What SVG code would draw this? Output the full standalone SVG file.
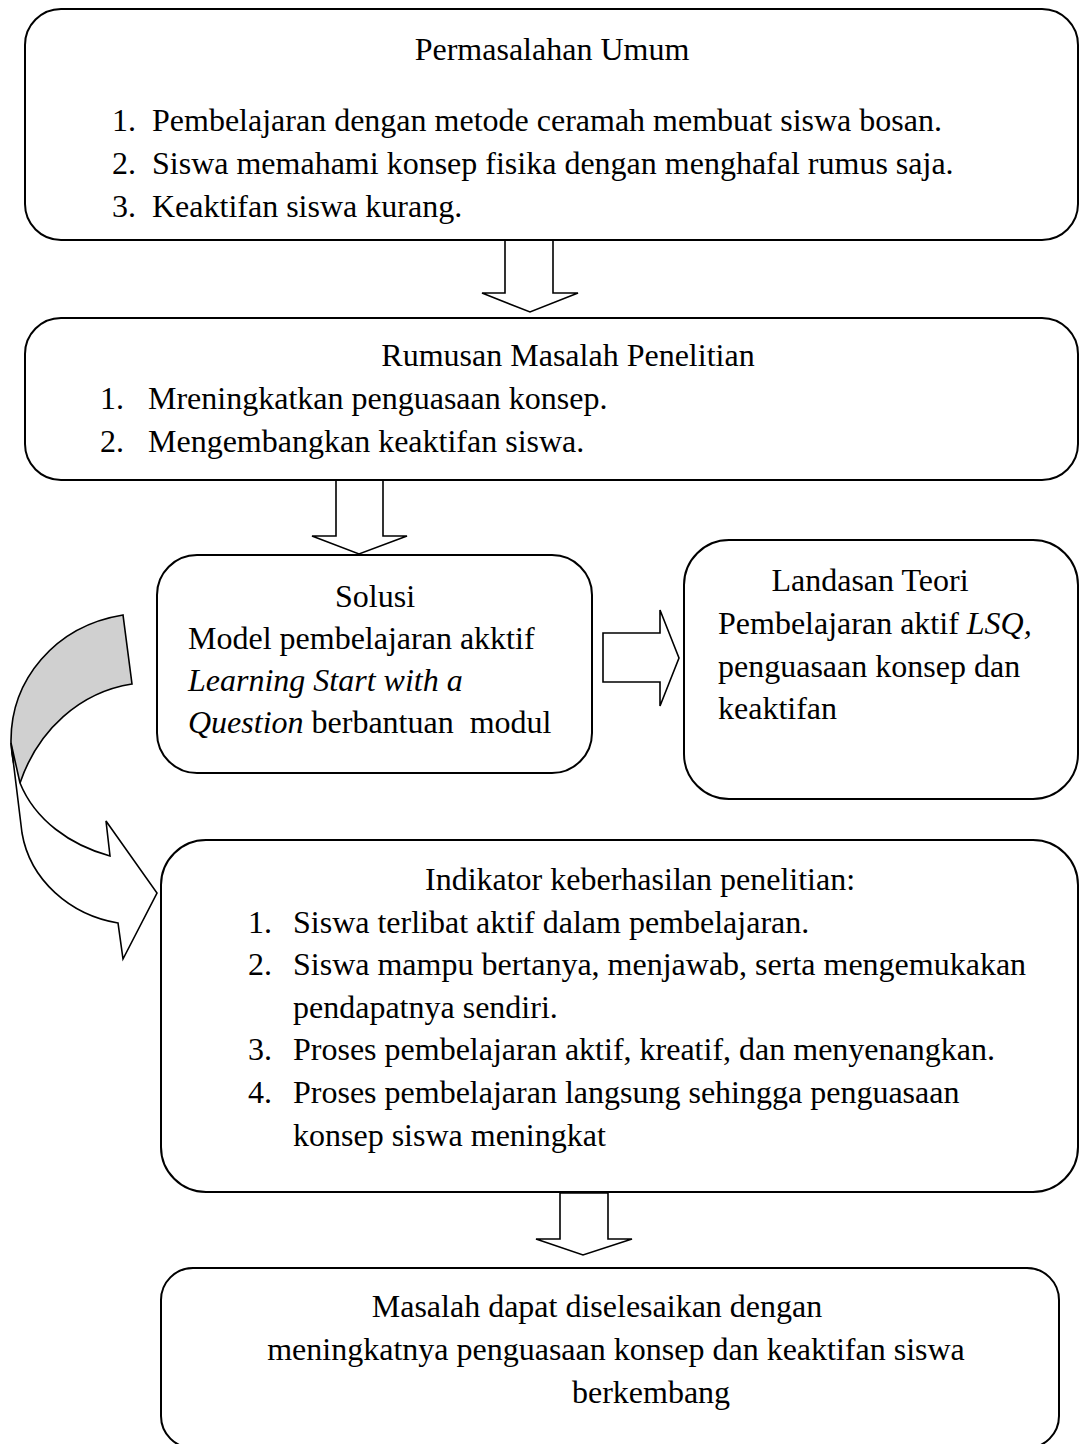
<svg xmlns="http://www.w3.org/2000/svg" width="1080" height="1444" viewBox="0 0 1080 1444">
<style>
.box{fill:#fff;stroke:#000;stroke-width:2}
.arr{fill:#fff;stroke:#000;stroke-width:1.6;stroke-linejoin:miter}
.t{font-family:"Liberation Serif","Times New Roman",serif;font-size:32px;fill:#000}
.c{text-anchor:middle}
.i{font-style:italic}
</style>
<rect width="1080" height="1444" fill="#fff"/>
<g id="connectors">
<path class="arr" d="M505,237 L553,237 L553,293 L578,293 L530,312 L482,293 L505,293 Z"/>
<path class="arr" d="M336,480 L383,480 L383,536 L407,536 L359,554 L312,536 L336,536 Z"/>
<path class="arr" d="M603,633 L660,633 L660,610 L679,658 L660,706 L660,682 L603,682 Z"/>
<path class="arr" d="M560,1193 L608,1193 L608,1239 L632,1239 L583,1255 L536,1239 L560,1239 Z"/>
<path d="M123,615 C55,626 10,680 11,743 C12,760 15,772 20,783 C38,730 80,692 132,684 Z" fill="#d0d0d0" stroke="#000" stroke-width="1.6"/>
<path class="arr" d="M11,743 L22,833 C30,880 70,915 118,923 L123,959 L157,893 L106,821 L110,856 C70,845 35,820 20,783 Z"/>
</g>
<g id="permasalahan">
<rect class="box" x="25" y="9" width="1053" height="231" rx="36"/>
<text class="t c" x="552" y="60">Permasalahan Umum</text>
<text class="t" x="112" y="131">1.</text><text class="t" x="152" y="131">Pembelajaran dengan metode ceramah membuat siswa bosan.</text>
<text class="t" x="112" y="174">2.</text><text class="t" x="152" y="174">Siswa memahami konsep fisika dengan menghafal rumus saja.</text>
<text class="t" x="112" y="217">3.</text><text class="t" x="152" y="217">Keaktifan siswa kurang.</text>
</g>
<g id="rumusan">
<rect class="box" x="25" y="318" width="1053" height="162" rx="36"/>
<text class="t c" x="568" y="366">Rumusan Masalah Penelitian</text>
<text class="t" x="100" y="409">1.</text><text class="t" x="148" y="409">Mreningkatkan penguasaan konsep.</text>
<text class="t" x="100" y="452">2.</text><text class="t" x="148" y="452">Mengembangkan keaktifan siswa.</text>
</g>
<g id="solusi">
<rect class="box" x="157" y="555" width="435" height="218" rx="40"/>
<text class="t c" x="375" y="607">Solusi</text>
<text class="t" x="188" y="649">Model pembelajaran akktif</text>
<text class="t i" x="188" y="691">Learning Start with a</text>
<text class="t" x="188" y="733"><tspan class="i">Question</tspan> berbantuan&#160; modul</text>
</g>
<g id="landasan">
<rect class="box" x="684" y="540" width="394" height="259" rx="45"/>
<text class="t c" x="870" y="591">Landasan Teori</text>
<text class="t" x="718" y="634">Pembelajaran aktif <tspan class="i">LSQ,</tspan></text>
<text class="t" x="718" y="677">penguasaan konsep dan</text>
<text class="t" x="718" y="719">keaktifan</text>
</g>
<g id="indikator">
<rect class="box" x="161" y="840" width="917" height="352" rx="45"/>
<text class="t c" x="640" y="890">Indikator keberhasilan penelitian:</text>
<text class="t" x="248" y="933">1.</text><text class="t" x="293" y="933">Siswa terlibat aktif dalam pembelajaran.</text>
<text class="t" x="248" y="975">2.</text><text class="t" x="293" y="975">Siswa mampu bertanya, menjawab, serta mengemukakan</text>
<text class="t" x="293" y="1018">pendapatnya sendiri.</text>
<text class="t" x="248" y="1060">3.</text><text class="t" x="293" y="1060">Proses pembelajaran aktif, kreatif, dan menyenangkan.</text>
<text class="t" x="248" y="1103">4.</text><text class="t" x="293" y="1103">Proses pembelajaran langsung sehingga penguasaan</text>
<text class="t" x="293" y="1146">konsep siswa meningkat</text>
</g>
<g id="hasil">
<rect class="box" x="161" y="1268" width="898" height="180" rx="32"/>
<text class="t c" x="597" y="1317">Masalah dapat diselesaikan dengan</text>
<text class="t c" x="616" y="1360">meningkatnya penguasaan konsep dan keaktifan siswa</text>
<text class="t c" x="651" y="1403">berkembang</text>
</g>
</svg>
